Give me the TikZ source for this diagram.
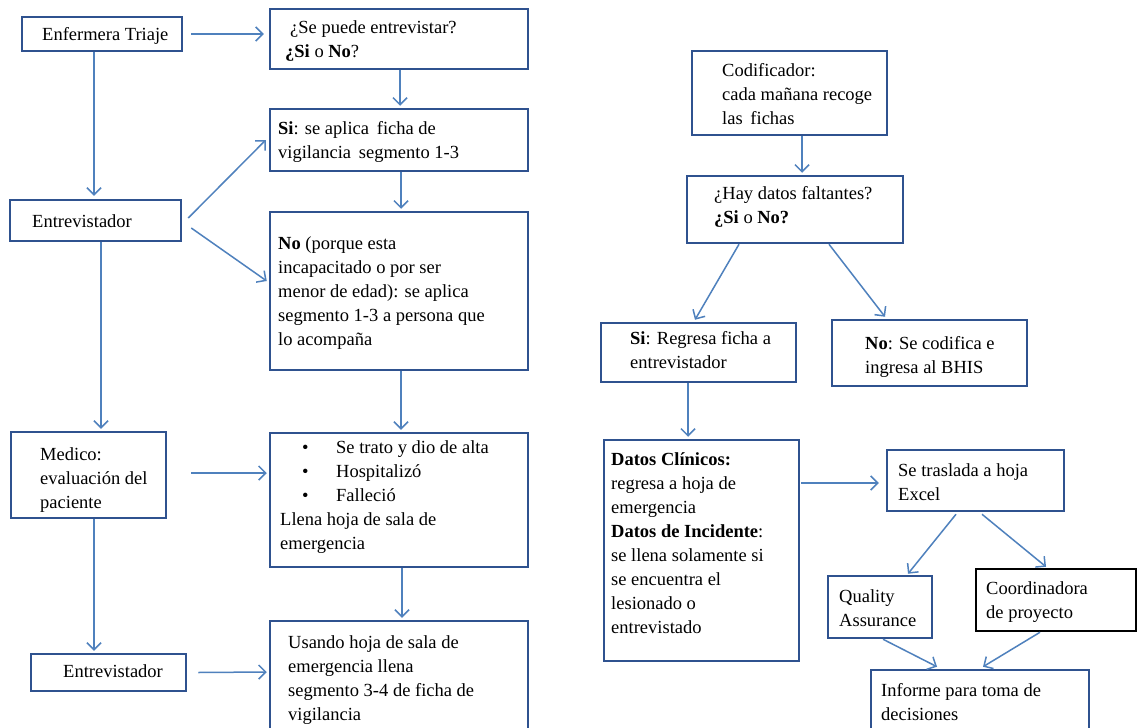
\documentclass[tikz,border=0pt]{standalone}
\usepackage{fontspec}
\setmainfont{Liberation Serif}
\usetikzlibrary{arrows.meta}
\definecolor{boxc}{RGB}{47,82,143}
\definecolor{arrc}{RGB}{79,129,189}
\begin{document}
\begin{tikzpicture}[x=1pt,y=-1pt,
  box/.style={draw=boxc, line width=2.5pt, rectangle, inner sep=0pt},
  blackbox/.style={draw=black, line width=2.5pt, rectangle, inner sep=0pt},
  txt/.style={inner sep=0pt, align=left, anchor=base west, font=\fontsize{18.5}{24}\selectfont},
  arr/.style={draw=arrc, line width=1.5pt, -{Straight Barb[length=7pt,width=14pt]}}]
\useasboundingbox[fill=white] (0,0) rectangle (1138,728);

% ---------- left column boxes ----------
\node[box, minimum width=160pt, minimum height=34pt]  (A) at (102,34) {};
\node[box, minimum width=258pt, minimum height=60pt]  (B) at (399,39) {};
\node[box, minimum width=258pt, minimum height=62pt]  (C) at (399,140) {};
\node[box, minimum width=171pt, minimum height=41pt]  (D) at (95.5,220.5) {};
\node[box, minimum width=258pt, minimum height=158pt] (E) at (399,291) {};
\node[box, minimum width=155pt, minimum height=86pt]  (F) at (88.5,475) {};
\node[box, minimum width=258pt, minimum height=134pt] (G) at (399,500) {};
\node[box, minimum width=155pt, minimum height=37pt]  (H) at (108.5,672.5) {};
\node[box, minimum width=258pt, minimum height=119pt] (I) at (399,680.5) {};

% ---------- right column boxes ----------
\node[box, minimum width=195pt, minimum height=84pt]  (J) at (789.5,93) {};
\node[box, minimum width=216pt, minimum height=67pt]  (K) at (795,209.5) {};
\node[box, minimum width=195pt, minimum height=59pt]  (L) at (698.5,352.5) {};
\node[box, minimum width=195pt, minimum height=66pt]  (M) at (929.5,353) {};
\node[box, minimum width=195pt, minimum height=221pt] (N) at (701.5,550.5) {};
\node[box, minimum width=177pt, minimum height=61pt]  (O) at (975.5,480.5) {};
\node[box, minimum width=104pt, minimum height=62pt]  (P) at (880,607) {};
\node[blackbox, minimum width=160pt, minimum height=62pt] (Q) at (1056,600) {};
\node[box, minimum width=218pt, minimum height=70pt]  (R) at (980,705) {};

% ---------- texts (anchor = baseline of the last line) ----------
\node[txt] (tA) at (42,40) {Enfermera Triaje};
\node[txt] (tB) at (285,57) {\hspace*{5pt}¿Se puede entrevistar?\\\textbf{¿Si} o \textbf{No}?};
\node[txt] (tC) at (278,158) {\textbf{Si}: se aplica\, ficha de\\vigilancia\, segmento 1-3};
\node[txt] (tD) at (32,227) {Entrevistador};
\node[txt] (tE) at (278,345) {\textbf{No} (porque esta\\incapacitado o por ser\\menor de edad): se aplica\\segmento 1-3 a persona que\\lo acompaña};
\node[txt] (tF) at (40,508) {Medico:\\evaluación del\\paciente};
\node[txt] (tG) at (280,549) {\hspace*{22pt}\makebox[34pt][l]{•}Se trato y dio de alta\\\hspace*{22pt}\makebox[34pt][l]{•}Hospitalizó\\\hspace*{22pt}\makebox[34pt][l]{•}Falleció\\Llena hoja de sala de\\emergencia};
\node[txt] (tH) at (63,677) {Entrevistador};
\node[txt] (tI) at (288,720) {Usando hoja de sala de\\emergencia llena\\segmento 3-4 de ficha de\\vigilancia};

\node[txt] (tJ) at (722,124) {Codificador:\\cada mañana recoge\\las\, fichas};
\node[txt] (tK) at (714,223) {¿Hay datos faltantes?\\\textbf{¿Si} o \textbf{No?}};
\node[txt] (tL) at (630,368) {\textbf{Si}: Regresa ficha a\\entrevistador};
\node[txt] (tM) at (865,373) {\textbf{No}: Se codifica e\\ingresa al BHIS};
\node[txt] (tN) at (611,633) {\textbf{Datos Clínicos:}\\regresa a hoja de\\emergencia\\\textbf{Datos de Incidente}:\\se llena solamente si\\se encuentra el\\lesionado o\\entrevistado};
\node[txt] (tO) at (898,500) {Se traslada a hoja\\Excel};
\node[txt] (tP) at (839,626) {Quality\\Assurance};
\node[txt] (tQ) at (986,618) {Coordinadora\\de proyecto};
\node[txt] (tR) at (881,720) {Informe para toma de\\decisiones};

% ---------- connectors ----------
\draw[arr] ([xshift=8pt]A.east) -- ([xshift=-5pt,yshift=5pt]B.west);
\draw[arr] ([xshift=-8pt]A.south) -- ([xshift=-1.5pt,yshift=3pt]D.north);
\draw[arr] ([xshift=1pt]B.south) -- ([xshift=1pt,yshift=2pt]C.north);
\draw[arr] ([xshift=6pt,yshift=2.5pt]D.east) -- ([xshift=-3pt]C.west);
\draw[arr] ([xshift=9pt,yshift=-7.5pt]D.east) -- ([xshift=-2pt,yshift=10pt]E.west);
\draw[arr] ([xshift=2pt]C.south) -- ([xshift=2pt,yshift=2pt]E.north);
\draw[arr] ([xshift=5.5pt]D.south) -- ([xshift=12.5pt,yshift=2pt]F.north);
\draw[arr] ([xshift=2pt]E.south) -- ([xshift=2pt,yshift=2pt]G.north);
\draw[arr] ([xshift=24pt,yshift=2pt]F.east) -- ([xshift=-2pt,yshift=27pt]G.west);
\draw[arr] ([xshift=5.5pt]F.south) -- ([xshift=-14.5pt,yshift=2pt]H.north);
\draw[arr] ([xshift=3pt]G.south) -- ([xshift=3pt,yshift=2pt]I.north);
\draw[arr] ([xshift=11pt]H.east) -- ([xshift=-2pt,yshift=8.5pt]I.west);

\draw[arr] ([xshift=12.5pt]J.south) -- ([xshift=7pt,yshift=2pt]K.north);
\draw[arr] ([xshift=-56pt]K.south) -- ([xshift=-3.5pt,yshift=2pt]L.north);
\draw[arr] ([xshift=34pt]K.south) -- ([xshift=-44.5pt,yshift=2pt]M.north);
\draw[arr] ([xshift=-10.5pt]L.south) -- ([xshift=-13.5pt,yshift=2pt]N.north);
\draw[arr] ([xshift=1pt,yshift=67.5pt]N.east) -- ([xshift=-7pt,yshift=-2.5pt]O.west);
\draw[arr] ([xshift=-19.5pt,yshift=-2pt]O.south) -- ([xshift=28pt,yshift=1pt]P.north);
\draw[arr] ([xshift=6.5pt,yshift=-2pt]O.south) -- ([xshift=-10pt,yshift=1pt]Q.north);
\draw[arr] ([xshift=3pt]P.south) -- ([xshift=-43pt,yshift=2pt]R.north);
\draw[arr] ([xshift=-16pt]Q.south) -- ([xshift=3pt,yshift=2pt]R.north);
\end{tikzpicture}
\end{document}
